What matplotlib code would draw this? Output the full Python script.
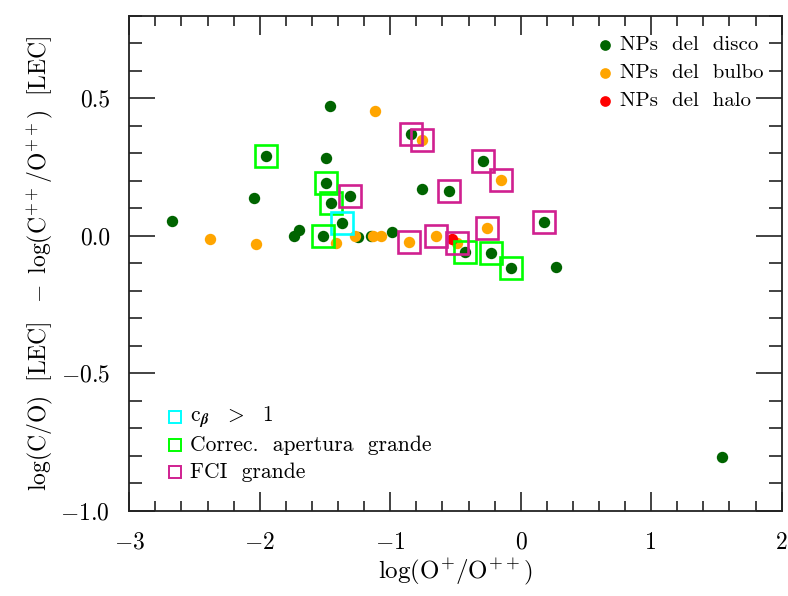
import matplotlib
matplotlib.use("Agg")
import matplotlib.pyplot as plt
from matplotlib.ticker import MultipleLocator

plt.rcParams["font.family"] = ["cmr10", "DejaVu Serif"]
plt.rcParams["mathtext.fontset"] = "cm"
plt.rcParams["axes.formatter.use_mathtext"] = True

# log(O+/O++) and log(C/O)[LEC] - log(C++/O++)[LEC] for each population
disco_x = [-1.459, -1.949, -1.492, -1.492, -1.454, -1.308, -2.044, -2.670,
           -1.372, -1.699, -1.740, -1.517, -1.245, -1.149, -0.989, -0.843,
           -0.291, -0.754, -0.552, 0.179, -0.427, -0.228, -0.074, 0.268, 1.545]
disco_y = [0.473, 0.290, 0.282, 0.192, 0.121, 0.145, 0.137, 0.053,
           0.048, 0.020, 0.000, 0.001, -0.003, 0.001, 0.013, 0.370,
           0.271, 0.172, 0.163, 0.052, -0.060, -0.063, -0.117, -0.114, -0.805]
disco_flag = ["", "ap", "", "ap", "ap", "fci", "", "",
              "cb", "", "", "ap", "", "", "", "fci",
              "fci", "", "fci", "fci", "ap", "ap", "ap", "", ""]

bulbo_x = [-2.381, -2.026, -1.418, -1.116, -0.754, -0.149, -1.270, -1.129,
           -1.073, -0.854, -0.651, -0.261, -0.486]
bulbo_y = [-0.012, -0.028, -0.027, 0.455, 0.347, 0.203, 0.001, 0.000,
           0.000, -0.023, 0.001, 0.028, -0.025]
bulbo_flag = ["", "", "", "", "fci", "fci", "", "",
              "", "fci", "fci", "fci", "fci"]

halo_x = [-0.529]
halo_y = [-0.011]
halo_flag = [""]

flag_keys = ["cb", "ap", "fci"]
flag_colors = {"cb": "#00FFFF", "ap": "#00FF00", "fci": "#D02090"}
flag_labels = {"cb": r"c$_{\boldsymbol{\beta}}$  $>$  1",
               "ap": "Correc.  apertura  grande",
               "fci": "FCI  grande"}

fig = plt.figure(figsize=(7.88, 5.96), dpi=100)
ax = fig.add_axes([0.164, 0.1426, 0.828, 0.831])

groups = [
    (disco_x, disco_y, disco_flag, "#006400", "NPs  del  disco"),
    (bulbo_x, bulbo_y, bulbo_flag, "#FFA500", "NPs  del  bulbo"),
    (halo_x, halo_y, halo_flag, "#FF0000", "NPs  del  halo"),
]

for xs, ys, flags, color, label in groups:
    ax.plot(xs, ys, "o", color=color, ms=8.2, mec="none", zorder=3)

for xs, ys, flags, color, label in groups:
    for fx, fy, fl in zip(xs, ys, flags):
        if fl:
            ax.plot(fx, fy, "s", mfc="none", mec=flag_colors[fl], mew=1.9,
                    ms=16.5, zorder=4)

# key for the populations (upper right)
key_rows = [0.941, 0.884, 0.828]
for (xs, ys, flags, color, label), ky in zip(groups, key_rows):
    ax.plot(0.729, ky, "o", color=color, ms=7.7, mec="none",
            transform=ax.transAxes, clip_on=False)
    ax.text(0.752, ky, label, transform=ax.transAxes, va="center",
            ha="left", fontsize=15)

# key for the flag boxes (lower left)
flag_rows = [0.190, 0.133, 0.0788]
for k, ky in zip(flag_keys, flag_rows):
    ax.plot(0.0702, ky, "s", mfc="none", mec=flag_colors[k], mew=1.4, ms=8.8,
            transform=ax.transAxes, clip_on=False)
    ax.text(0.093, ky, flag_labels[k], transform=ax.transAxes, va="center",
            ha="left", fontsize=15.5)

ax.set_xlim(-3, 2)
ax.set_ylim(-1.0, 0.8)
ax.xaxis.set_major_locator(MultipleLocator(1))
ax.xaxis.set_minor_locator(MultipleLocator(0.2))
ax.yaxis.set_major_locator(MultipleLocator(0.5))
ax.yaxis.set_minor_locator(MultipleLocator(0.1))
ax.yaxis.set_major_formatter(plt.FuncFormatter(
    lambda v, p: ("$-$" if v < -1e-9 else "") + f"{abs(v):.1f}"))
ax.xaxis.set_major_formatter(plt.FuncFormatter(
    lambda v, p: ("$-$" if v < -1e-9 else "") + f"{abs(v):.0f}"))

for s in ax.spines.values():
    s.set_linewidth(1.3)
    s.set_color("#222222")
ax.tick_params(axis="both", which="both", direction="in", top=True, right=True,
               color="#222222", labelsize=17)
ax.tick_params(axis="x", which="major", length=14, width=1.2, pad=15)
ax.tick_params(axis="x", which="minor", length=7, width=1.2)
ax.tick_params(axis="y", which="major", length=19, width=1.2, pad=14)
ax.tick_params(axis="y", which="minor", length=9.5, width=1.2)

ax.set_xlabel(r"$\log(\mathrm{O}^{+}/\mathrm{O}^{++})$", fontsize=18, labelpad=2)
ax.set_ylabel(r"$\log(\mathrm{C/O})\ \ [\mathrm{LEC}]\ \ -\ \log(\mathrm{C}^{++}/\mathrm{O}^{++})\ \ [\mathrm{LEC}]$",
              fontsize=17, labelpad=4)

fig.savefig("out.png", dpi=100)
